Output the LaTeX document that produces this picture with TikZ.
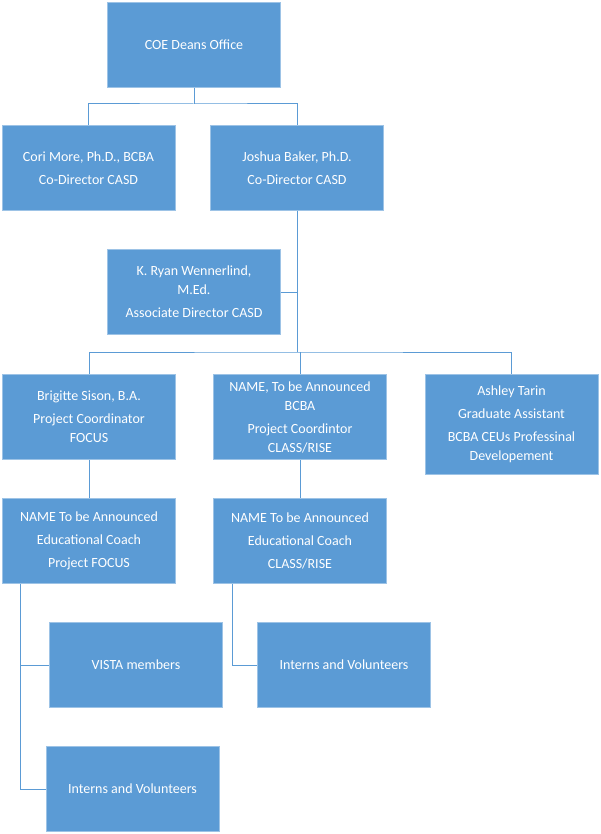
\documentclass[tikz,border=0pt]{standalone}
\usepackage{fontspec}
\setmainfont{Carlito}
\usetikzlibrary{positioning}
\definecolor{boxblue}{HTML}{5B9BD5}
\definecolor{edgeblue}{HTML}{9DC3E6}
\begin{document}
\begin{tikzpicture}
[x=1pt,y=-1pt,
box/.style={fill=boxblue, draw=edgeblue, line width=1pt, text=white, align=center,
  font=\fontsize{14}{19}\selectfont, minimum width=173pt, minimum height=85pt, inner sep=2pt},
link/.style={draw=boxblue, line width=1pt}]
\useasboundingbox (0,0) rectangle (600,834);

\node[box] (deans) at (194,45) {COE Deans Office};
\node[box] (more) at (88.5,168) {Cori More, Ph.D., BCBA\\[4pt]Co-Director CASD};
\node[box] (baker) at (297,168) {Joshua Baker, Ph.D.\\[4pt]Co-Director CASD};
\node[box] (ryan) at (194,292) {K. Ryan Wennerlind,\\M.Ed.\\[4pt]Associate Director CASD};
\node[box] (sison) at (89,417) {Brigitte Sison, B.A.\\[4pt]Project Coordinator\\FOCUS};
\node[box] (bcba) at (300,417) {NAME, To be Announced\\BCBA\\[4pt]Project Coordintor\\CLASS/RISE};
\node[box, minimum height=100pt] (tarin) at (511.5,424) {Ashley Tarin\\[4pt]Graduate Assistant\\[4pt]BCBA CEUs Professinal\\Developement};
\node[box] (coachf) at (89,541) {NAME To be Announced\\[4pt]Educational Coach\\[4pt]Project FOCUS};
\node[box] (coachc) at (300,541) {NAME To be Announced\\[4pt]Educational Coach\\[4pt]CLASS/RISE};
\node[box] (vista) at (136,665) {VISTA members};
\node[box] (internc) at (344,665) {Interns and Volunteers};
\node[box] (internf) at (132.5,789) {Interns and Volunteers};

% tree lines
\coordinate (j1) at (194,104);
\draw[link] (deans.south) -- (j1);
\draw[link] (more.north) |- (j1) -| (baker.north);
\coordinate (j2) at (297,352);
\draw[link] (baker.south) -- (j2);
\draw[link] (ryan.east) -- (297,292);
\draw[link] (sison.north) |- (j2) -| (tarin.north);
\draw[link] (bcba.north) -- (300,352);
\draw[link] (sison.south) -- (coachf.north);
\draw[link] (bcba.south) -- (coachc.north);
\coordinate (f1) at (20,584);
\draw[link] (f1) |- (internf.west);
\draw[link] (20,665) -- (vista.west);
\coordinate (c1) at (232,584);
\draw[link] (c1) |- (internc.west);
\end{tikzpicture}
\end{document}
